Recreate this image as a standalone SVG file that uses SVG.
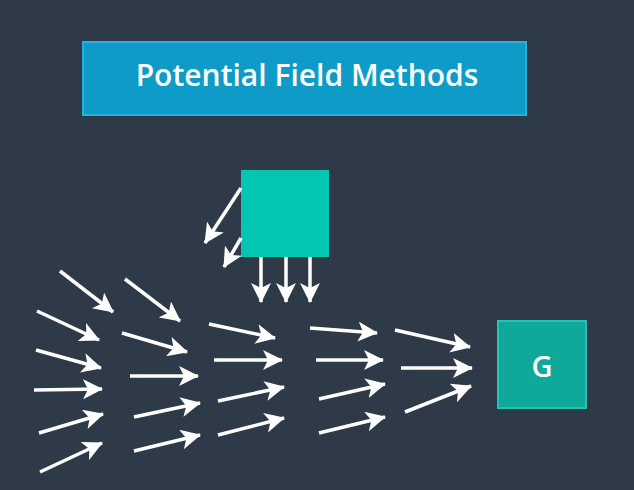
<svg xmlns="http://www.w3.org/2000/svg" width="634" height="490" viewBox="0 0 634 490">
<style>
.bg{fill:#2e3a47}
.title{fill:#0f9bc7;stroke:#22b2dc;stroke-width:2}
.obst{fill:#02c6b2}
.goal{fill:#0ea99a;stroke:#25c3b1;stroke-width:2}
.lbl{fill:#ffffff;font-family:"Open Sans","DejaVu Sans",sans-serif;font-weight:600;text-anchor:middle}
.arr line{stroke:#ffffff;stroke-width:3.5;marker-end:url(#ah)}
</style>
<defs>
<marker id="ah" markerUnits="userSpaceOnUse" markerWidth="20" markerHeight="20" refX="19" refY="10" orient="auto" viewBox="0 0 20 20">
<path d="M0,0 L20,10 L0,20 L5,10 z" fill="#ffffff"/>
</marker>
</defs>
<rect class="bg" x="0" y="0" width="634" height="490"/>
<g id="title">
<rect class="title" x="83" y="42" width="443" height="73"/>
<text class="lbl" x="307" y="86" font-size="30">Potential Field Methods</text>
</g>
<g id="obstacle">
<rect class="obst" x="241" y="170" width="88" height="87"/>
</g>
<g id="goal">
<rect class="goal" x="498" y="321" width="88" height="87"/>
<text class="lbl" x="542" y="377" font-size="29">G</text>
</g>
<g id="connectors" class="arr">
<line x1="261" y1="257" x2="261" y2="302"/>
<line x1="286" y1="257" x2="286" y2="302"/>
<line x1="310" y1="257" x2="310" y2="302"/>
<line x1="241" y1="188" x2="205" y2="243"/>
<line x1="241" y1="238" x2="224" y2="267"/>
<line x1="60" y1="271" x2="113" y2="312"/>
<line x1="37" y1="311" x2="99" y2="340"/>
<line x1="36" y1="350" x2="101" y2="368"/>
<line x1="34" y1="390" x2="102" y2="389"/>
<line x1="39" y1="433" x2="103" y2="414"/>
<line x1="40" y1="472" x2="102" y2="443"/>
<line x1="125" y1="279" x2="180" y2="321"/>
<line x1="122" y1="333" x2="187" y2="352"/>
<line x1="130" y1="376" x2="198" y2="376"/>
<line x1="134" y1="417" x2="200" y2="403"/>
<line x1="134" y1="451" x2="200" y2="435"/>
<line x1="209" y1="324" x2="275" y2="338"/>
<line x1="214" y1="360" x2="282" y2="360"/>
<line x1="218" y1="401" x2="284" y2="387"/>
<line x1="218" y1="435" x2="284" y2="418"/>
<line x1="310" y1="328" x2="377" y2="333"/>
<line x1="316" y1="360" x2="383" y2="360"/>
<line x1="319" y1="399" x2="385" y2="384"/>
<line x1="319" y1="433" x2="385" y2="417"/>
<line x1="395" y1="330" x2="470" y2="347"/>
<line x1="401" y1="368" x2="472" y2="368"/>
<line x1="405" y1="412" x2="471" y2="386"/>
</g>
</svg>
